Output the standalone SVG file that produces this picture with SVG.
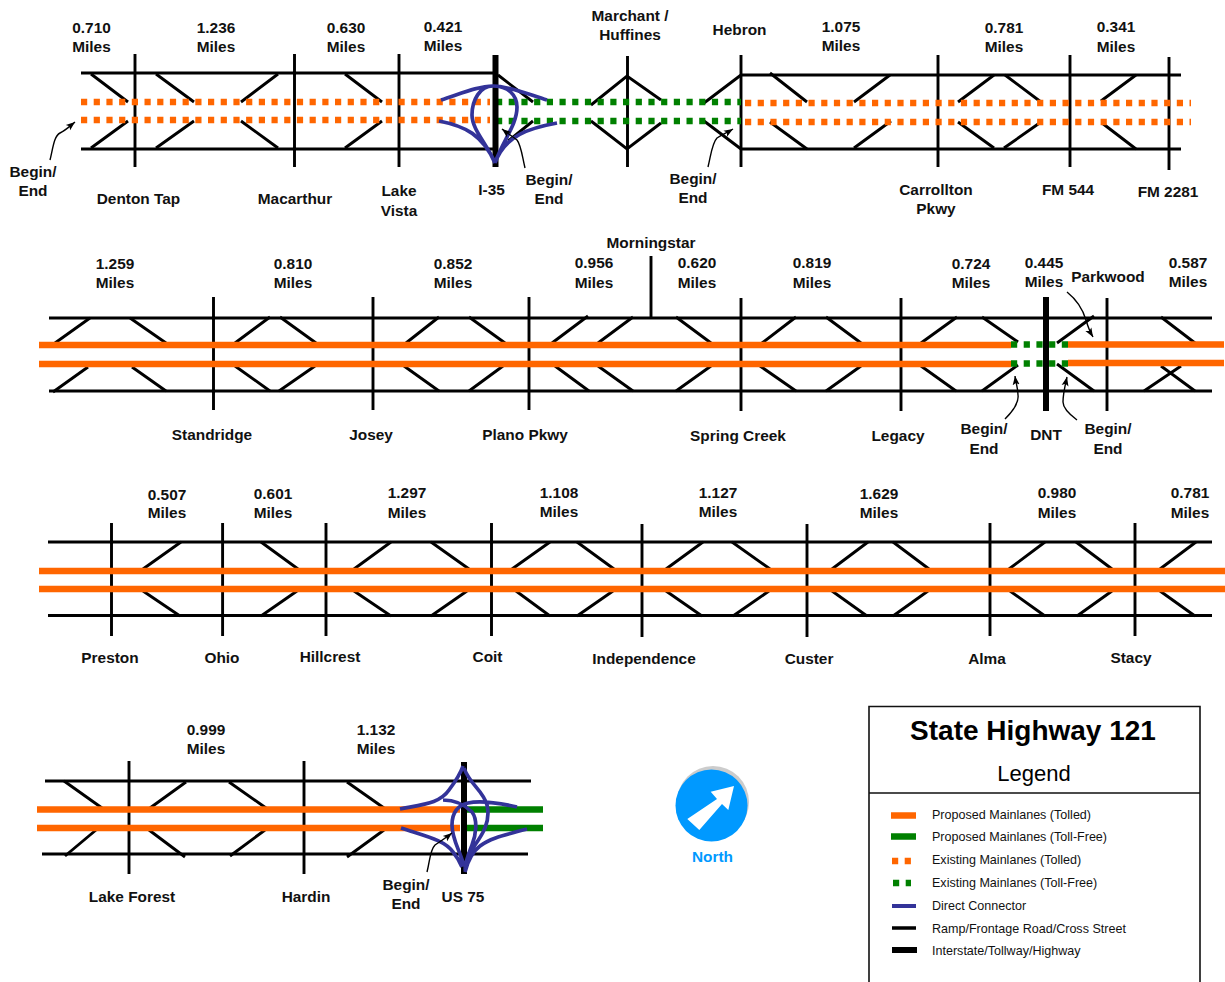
<svg xmlns="http://www.w3.org/2000/svg" width="1225" height="982" viewBox="0 0 1225 982">
<style>
text{font-family:"Liberation Sans",Arial,sans-serif;font-size:15.4px;font-weight:700;fill:#111;text-anchor:middle}
.ln{fill:none;stroke:#000;stroke-width:2.9}
.th{fill:none;stroke:#000;stroke-width:6}
.or{fill:none;stroke:#F60;stroke-width:6.5}
.gr{fill:none;stroke:#008000;stroke-width:6.5}
.od{fill:none;stroke:#F60;stroke-width:6.3;stroke-dasharray:6.2 6.5}
.gd{fill:none;stroke:#008000;stroke-width:6.3;stroke-dasharray:6.2 6.5}
.bl{fill:none;stroke:#339;stroke-width:3.7}
.ar{fill:none;stroke:#000;stroke-width:1.4;marker-end:url(#h)}
.lg{font-size:12.55px;font-weight:400;text-anchor:start}
</style>
<defs><marker id="h" markerUnits="userSpaceOnUse" markerWidth="10" markerHeight="8" refX="9" refY="4" orient="auto"><path d="M0,0.5L9,4L0,7.5L2,4Z" fill="#000"/></marker></defs>
<rect width="1225" height="982" fill="#fff"/>
<g id="connectors">
<g id="row1-roads">
<path class="ln" d="M81,73H495M81,149H495M741,75H1181M741,149H1181M135,54V167M294.500,54V167M399,54V167M627.500,56V167M741,55V167M938,55V167M1070,55V167M1169,57V170"/>
<path class="ln" d="M91,74L128,102M91,148L128,121M156,74L194,102M156,148L194,121M278,74L241,102M278,148L241,121M345,74L382,102M345,148L382,121M498,75L533,102M533,121L508,141M591,105L627,76L661,100M591,121L627,149L661,123M741,75L704,103M704,121L741,149M770,73L807,102M770,122L807,149M890,75L854,102M891,121L854,148M994,75L958,102M1005,75L1041,102M958,122L994,148M1041,122L1004,148M1136,75L1101,101M1102,123L1136,149"/>
<path class="od" d="M81,102H490M81,120H490M745,103H1191M745,122H1191"/>
<path class="gd" d="M496,102H741M496,121H741"/>
<path class="th" d="M495.500,55V167"/>
<path class="bl" d="M441,100C460,94 478,86 493,86C510,86 530,95 547,100M495,163C488,145 472,130 472,115C472,100 480,86 493,86C508,86 517,95 517,107C517,125 503,140 495,163M439,121C465,126 483,135 495,163M557,123C530,128 505,135 495,163"/>
</g>
<g id="row2-roads">
<path class="ln" d="M49,318H1212M49,391H1212M213.500,297V410M373,297V410M529,297V410M741,298V411M901,298V411M1107,298V411M651,256V318"/>
<path class="ln" d="M90,318L55,343M130,318L166,343M88,367L53,392M132,367L166,391M270,317L235,343M280,317L316,343M235,366L270,391M315,366L279,391M439,317L406,343M469,317L505,343M404,366L439,391M503,366L469,391M588,316L552,343M633,317L598,343M555,366L589,391M598,366L633,391M676,317L711,343M711,366L676,391M796,317L762,343M760,366L796,391M826,317L861,343M861,366L826,391M957,317L921,343M921,366L956,391M982,317L1018,342M1018,365L982,391M1094,316L1057,343M1057,364L1094,391M1161,317L1195,343M1181,366L1144,391M1161,366L1195,391"/>
<path class="or" d="M39,345H1011M39,364H1011M1068,344.500H1224M1068,363H1224"/>
<path class="gd" d="M1011,344.500H1068M1011,363.500H1068"/>
<path class="th" d="M1046,297V411"/>
</g>
<g id="row3-roads">
<path class="ln" d="M48,542H1212M48,615.500H1212M111.500,523V636M222.600,523V636M326,523V636M491.500,523V636M642,524V637M807,524V637M990,523V636M1135,523V636"/>
<path class="ln" d="M181,542L143,569M143,591L180,616M261,542L298,569M297,591L261,616M391,542L354,569M354,591L391,616M431,542L469,569M467,591L431,616M550,542L512,569M516,591L550,616M577,542L614,569M613,591L577,616M703,542L666,569M666,591L702,616M732,542L770,569M769,591L733,616M868,542L832,569M832,591L867,616M893,542L929,569M928,591L893,616M1045,542L1009,569M1010,591L1045,616M1076,542L1112,569M1112,591L1077,616M1196,542L1160,569M1160,591L1195,616"/>
<path class="or" d="M39,571H1225M39,589H1225"/>
</g>
<g id="row4-roads">
<path class="ln" d="M45,781H531M42,854H528M129,761V874M304,761V874"/>
<path class="ln" d="M64,781L102,808M96,830L65,856M186,782L150,808M149,830L185,857M229,782L266,808M265,830L230,856M347,782L384,808M384,830L347,857"/>
<path class="or" d="M37,809.500H460M37,828H460"/>
<path class="gr" d="M464,809.500H543M464,828H543"/>
<path class="th" d="M464,762V874"/>
<path class="bl" d="M400,809C425,804 440,803 449,790C455,782 460,775 463,766M464,768C470,785 483,790 487,805C491,822 482,835 475,845C470,852 466,860 465,870M517,807C495,802 480,800 468,803C455,806 452,815 452,825C452,840 460,850 464,866M443,800C455,800 465,805 472,812C478,820 476,835 472,845C469,853 466,860 465,868M401,828C425,836 445,840 453,852C458,858 460,862 462,867M527,829C505,835 490,838 480,846C472,852 468,860 465,872"/>
</g>
<g id="begin-end-arrows">
<path class="ar" d="M50,160C53,148 54,136 60,133C66,130 70,126 75,122"/>
<path class="ar" d="M525,168C522,155 521,145 517,140C512,136 507,133 502,129"/>
<path class="ar" d="M708,167C711,155 712,143 717,138C723,134 728,132 733,129"/>
<path class="ar" d="M1005,419C1013,411 1019,402 1018,395C1018,388 1016,384 1015,376"/>
<path class="ar" d="M1077,420C1069,414 1063,408 1063,402C1063,394 1065,386 1067,377"/>
<path class="ar" d="M1067,292C1077,300 1083,310 1086,320C1088,327 1090,332 1093,337"/>
<path class="ar" d="M427,872C430,860 430,850 435,845C441,841 447,837 452,833"/>
</g>
</g>
<g id="labels-row1">
<text x="91.500" y="33">0.710</text><text x="91.500" y="52">Miles</text>
<text x="216" y="33">1.236</text><text x="216" y="52">Miles</text>
<text x="346" y="33">0.630</text><text x="346" y="52">Miles</text>
<text x="443" y="32">0.421</text><text x="443" y="51">Miles</text>
<text x="630" y="21">Marchant /</text><text x="630" y="40">Huffines</text>
<text x="739.500" y="35">Hebron</text>
<text x="841" y="32">1.075</text><text x="841" y="51">Miles</text>
<text x="1004" y="33">0.781</text><text x="1004" y="52">Miles</text>
<text x="1116" y="32">0.341</text><text x="1116" y="52">Miles</text>
<text x="33" y="177">Begin/</text><text x="33" y="196">End</text>
<text x="138.500" y="204">Denton Tap</text>
<text x="295" y="204">Macarthur</text>
<text x="399" y="196">Lake</text><text x="399" y="216">Vista</text>
<text x="491.500" y="195">I-35</text>
<text x="549" y="185">Begin/</text><text x="549" y="204">End</text>
<text x="693" y="184">Begin/</text><text x="693" y="203">End</text>
<text x="936" y="195">Carrollton</text><text x="936" y="214">Pkwy</text>
<text x="1068" y="195">FM 544</text>
<text x="1168" y="197">FM 2281</text>
</g>
<g id="labels-row2">
<text x="115" y="269">1.259</text><text x="115" y="288">Miles</text>
<text x="293" y="269">0.810</text><text x="293" y="288">Miles</text>
<text x="453" y="269">0.852</text><text x="453" y="288">Miles</text>
<text x="594" y="268">0.956</text><text x="594" y="288">Miles</text>
<text x="651" y="248">Morningstar</text>
<text x="697" y="268">0.620</text><text x="697" y="288">Miles</text>
<text x="812" y="268">0.819</text><text x="812" y="288">Miles</text>
<text x="971" y="269">0.724</text><text x="971" y="288">Miles</text>
<text x="1044" y="268">0.445</text><text x="1044" y="287">Miles</text>
<text x="1108" y="282">Parkwood</text>
<text x="1188" y="268">0.587</text><text x="1188" y="287">Miles</text>
<text x="212" y="440">Standridge</text>
<text x="371" y="440">Josey</text>
<text x="525" y="440">Plano Pkwy</text>
<text x="738" y="441">Spring Creek</text>
<text x="898" y="441">Legacy</text>
<text x="984" y="434">Begin/</text><text x="984" y="454">End</text>
<text x="1046" y="440">DNT</text>
<text x="1108" y="434">Begin/</text><text x="1108" y="454">End</text>
</g>
<g id="labels-row3">
<text x="167" y="500">0.507</text><text x="167" y="518">Miles</text>
<text x="273" y="499">0.601</text><text x="273" y="518">Miles</text>
<text x="407" y="498">1.297</text><text x="407" y="518">Miles</text>
<text x="559" y="498">1.108</text><text x="559" y="517">Miles</text>
<text x="718" y="498">1.127</text><text x="718" y="517">Miles</text>
<text x="879" y="499">1.629</text><text x="879" y="518">Miles</text>
<text x="1057" y="498">0.980</text><text x="1057" y="518">Miles</text>
<text x="1190" y="498">0.781</text><text x="1190" y="518">Miles</text>
<text x="110" y="663">Preston</text>
<text x="222" y="663">Ohio</text>
<text x="330" y="662">Hillcrest</text>
<text x="487.500" y="662">Coit</text>
<text x="644" y="664">Independence</text>
<text x="809" y="664">Custer</text>
<text x="987" y="664">Alma</text>
<text x="1131" y="663">Stacy</text>
</g>
<g id="labels-row4">
<text x="206" y="735">0.999</text><text x="206" y="754">Miles</text>
<text x="376" y="735">1.132</text><text x="376" y="754">Miles</text>
<text x="132" y="902">Lake Forest</text>
<text x="306" y="902">Hardin</text>
<text x="406" y="890">Begin/</text><text x="406" y="909">End</text>
<text x="463" y="902">US 75</text>
</g>
<g id="north">
<circle cx="713" cy="802" r="36" fill="#ccc"/>
<circle cx="711.500" cy="805.500" r="36" fill="#09F"/>
<polygon points="687.300,819 699.300,830 722,804 728.300,810 734,786 710.700,791.700 717,799" fill="#fff"/>
<text x="712.500" y="862" style="fill:#09F">North</text>
</g>
<g id="legend">
<path d="M869,982V706.500H1200V982M869,793H1200" fill="none" stroke="#111" stroke-width="1.600"/>
<text x="1033" y="740" style="font-size:28px;fill:#000">State Highway 121</text>
<text x="1034" y="781" style="font-size:22px;font-weight:400;fill:#000">Legend</text>
<path class="or" d="M891,815.500H916"/>
<path class="gr" d="M891,836.500H916"/>
<path class="od" d="M892,861H911"/>
<path class="gd" d="M893,883H911"/>
<path d="M892,906H916" fill="none" stroke="#339" stroke-width="4"/>
<path d="M892,928H916" fill="none" stroke="#000" stroke-width="3.500"/>
<path d="M892,950H917" fill="none" stroke="#000" stroke-width="6"/>
<text class="lg" x="932" y="819">Proposed Mainlanes (Tolled)</text>
<text class="lg" x="932" y="841">Proposed Mainlanes (Toll-Free)</text>
<text class="lg" x="932" y="864">Existing Mainlanes (Tolled)</text>
<text class="lg" x="932" y="887">Existing Mainlanes (Toll-Free)</text>
<text class="lg" x="932" y="910">Direct Connector</text>
<text class="lg" x="932" y="933">Ramp/Frontage Road/Cross Street</text>
<text class="lg" x="932" y="955">Interstate/Tollway/Highway</text>
</g>
</svg>
